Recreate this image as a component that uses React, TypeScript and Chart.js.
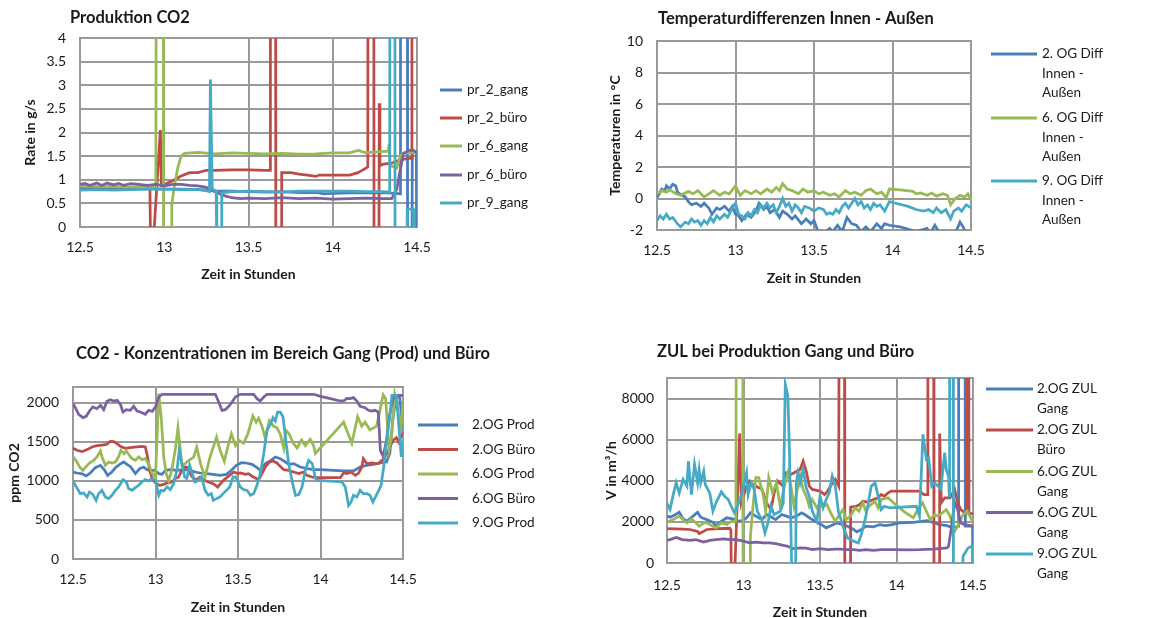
import React, { useEffect, useRef } from "react";
import { Chart, registerables } from "chart.js";

Chart.register(...registerables);

const FONT = "Lato, 'Open Sans', sans-serif";
const GRID = "#9a9a9a";
const TEXT = "#1a1a1a";
const C_BLUE = "#4A7EBB";
const C_RED = "#BE4B48";
const C_GREEN = "#98B954";
const C_PURPLE = "#7D60A0";
const C_CYAN = "#46AAC5";

const xTicks = [12.5, 13, 13.5, 14, 14.5];

// ---------- Panel 1: Produktion CO2 ----------
const p1Title = "Produktion CO2";
const p1YTitle = "Rate in g/s";
const p1YTicks = [0, 0.5, 1, 1.5, 2, 2.5, 3, 3.5, 4];
const p1Names = [["pr_2_gang"], ["pr_2_büro"], ["pr_6_gang"], ["pr_6_büro"], ["pr_9_gang"]];
const p1_pr2gang = [[12.5,0.82],[12.6,0.81],[12.7,0.82],[12.8,0.8],[12.9,0.81],[13.0,0.8],[13.1,0.8],[13.2,0.79],[13.27,0.78],[13.3,0.76],[13.4,0.76],[13.5,0.75],[13.6,0.74],[13.7,0.75],[13.8,0.73],[13.9,0.73],[13.95,0.7],[14.0,0.71],[14.1,0.72],[14.2,0.72],[14.3,0.73],[14.37,0.71],[14.4,0.7],[14.402,10],[14.442,10],[14.444,-1],[14.47,-1],[14.472,1.58],[14.496,1.58],[14.498,-1]];
const p1_pr2buero = [[12.5,0.85],[12.6,0.84],[12.7,0.85],[12.8,0.83],[12.88,0.84],[12.915,0.84],[12.918,-0.2],[12.94,-0.05],[12.977,2.05],[12.983,0.88],[13.0,0.9],[13.05,0.98],[13.1,1.08],[13.15,1.15],[13.2,1.15],[13.25,1.2],[13.3,1.2],[13.4,1.21],[13.5,1.21],[13.6,1.2],[13.628,1.2],[13.63,10],[13.66,10],[13.662,-1],[13.695,-1],[13.697,1.15],[13.75,1.15],[13.8,1.12],[13.85,1.1],[13.9,1.07],[13.92,1.1],[14.0,1.1],[14.1,1.1],[14.15,1.15],[14.2,1.25],[14.208,1.27],[14.21,10],[14.243,10],[14.245,-1],[14.274,-1],[14.276,2.62],[14.28,1.3],[14.3,1.33],[14.35,1.35],[14.4,1.42],[14.45,1.45],[14.468,1.45],[14.47,10]];
const p1_pr6gang = [[12.5,0.86],[12.6,0.86],[12.7,0.85],[12.8,0.85],[12.9,0.86],[12.95,0.85],[12.955,10],[12.994,10],[12.996,-1],[13.042,-1],[13.045,0.5],[13.06,0.85],[13.08,1.25],[13.1,1.5],[13.12,1.56],[13.2,1.58],[13.3,1.55],[13.4,1.57],[13.5,1.56],[13.6,1.55],[13.7,1.56],[13.8,1.54],[13.9,1.55],[14.0,1.57],[14.1,1.57],[14.15,1.62],[14.2,1.57],[14.3,1.6],[14.33,1.6],[14.335,1.76],[14.34,1.3],[14.38,1.25],[14.4,1.5],[14.42,1.57],[14.5,1.58]];
const p1_pr6buero = [[12.5,0.9],[12.53,0.92],[12.56,0.88],[12.6,0.93],[12.63,0.88],[12.66,0.93],[12.7,0.89],[12.73,0.92],[12.76,0.88],[12.8,0.92],[12.85,0.9],[12.9,0.88],[12.95,0.9],[13.0,0.87],[13.05,0.9],[13.1,0.9],[13.15,0.88],[13.2,0.87],[13.25,0.84],[13.28,0.78],[13.32,0.72],[13.35,0.67],[13.4,0.62],[13.45,0.6],[13.5,0.61],[13.6,0.6],[13.7,0.62],[13.8,0.6],[13.9,0.61],[14.0,0.59],[14.1,0.6],[14.2,0.61],[14.3,0.6],[14.35,0.6],[14.38,0.8],[14.4,1.2],[14.42,1.55],[14.45,1.62],[14.48,1.62],[14.5,1.57]];
const p1_pr9gang = [[12.5,0.78],[12.6,0.79],[12.7,0.78],[12.8,0.79],[12.9,0.8],[13.0,0.8],[13.1,0.79],[13.2,0.79],[13.25,0.77],[13.268,0.75],[13.274,3.12],[13.285,0.8],[13.3,0.78],[13.308,0.76],[13.312,-0.5],[13.337,-0.5],[13.341,0.72],[13.4,0.75],[13.5,0.76],[13.6,0.75],[13.7,0.74],[13.8,0.76],[13.9,0.76],[14.0,0.76],[14.1,0.76],[14.2,0.75],[14.3,0.75],[14.338,0.74],[14.34,10],[14.368,10],[14.37,-1],[14.44,-1],[14.442,0.38],[14.478,0.38],[14.48,-1]];

// ---------- Panel 2: Temperaturdifferenzen ----------
const p2Title = "Temperaturdifferenzen Innen - Außen";
const p2YTitle = "Temperaturen in °C";
const p2YTicks = [-2, 0, 2, 4, 6, 8, 10];
const p2Names = [["2. OG Diff", "Innen -", "Außen"], ["6. OG Diff", "Innen -", "Außen"], ["9. OG Diff", "Innen -", "Außen"]];
const p2_og2 = [[12.5,0.05],[12.52,0.4],[12.53,0.6],[12.55,0.5],[12.56,0.8],[12.58,0.6],[12.6,0.9],[12.62,0.8],[12.63,0.4],[12.66,0.2],[12.68,0.1],[12.7,-0.2],[12.72,-0.4],[12.75,-0.3],[12.78,-0.5],[12.8,-0.3],[12.83,-0.6],[12.85,-1.0],[12.88,-0.6],[12.9,-0.7],[12.93,-0.5],[12.96,-0.8],[12.98,-0.5],[13.0,-1.0],[13.02,-1.1],[13.04,-1.4],[13.07,-1.0],[13.1,-1.2],[13.13,-0.8],[13.15,-0.3],[13.18,-0.7],[13.2,-0.5],[13.22,-0.9],[13.25,-0.7],[13.28,-1.2],[13.3,-0.8],[13.33,-1.0],[13.36,-1.3],[13.38,-1.1],[13.42,-1.6],[13.45,-1.3],[13.48,-1.6],[13.5,-1.4],[13.53,-2.2],[13.56,-2.2],[13.6,-1.9],[13.62,-2.1],[13.65,-1.7],[13.68,-2.1],[13.71,-1.2],[13.74,-1.6],[13.77,-1.7],[13.8,-2.1],[13.83,-1.8],[13.86,-2.1],[13.9,-1.6],[13.93,-1.9],[13.95,-1.6],[13.98,-1.7],[14.05,-1.8],[14.15,-2.1],[14.22,-1.9],[14.24,-2.2],[14.27,-1.7],[14.3,-2.2],[14.4,-2.2],[14.43,-1.5],[14.45,-1.8],[14.47,-2.3],[14.5,-2.3]];
const p2_og6 = [[12.5,0.3],[12.53,0.5],[12.56,0.4],[12.58,0.55],[12.62,0.3],[12.65,0.2],[12.7,0.45],[12.73,0.3],[12.76,0.5],[12.8,0.1],[12.83,0.3],[12.86,0.5],[12.9,0.2],[12.93,0.4],[12.96,0.3],[13.0,0.8],[13.03,0.2],[13.06,0.5],[13.1,0.3],[13.13,0.5],[13.16,0.3],[13.2,0.6],[13.23,0.4],[13.26,0.7],[13.28,0.5],[13.3,0.95],[13.33,0.6],[13.36,0.5],[13.4,0.3],[13.43,0.6],[13.46,0.4],[13.5,0.5],[13.53,0.3],[13.56,0.4],[13.6,0.2],[13.63,0.3],[13.66,0.1],[13.7,0.5],[13.73,0.3],[13.76,0.4],[13.8,0.2],[13.83,0.5],[13.86,0.6],[13.9,0.3],[13.93,0.4],[13.96,0.05],[13.98,0.6],[14.05,0.55],[14.13,0.45],[14.15,0.3],[14.18,0.35],[14.22,0.2],[14.25,0.35],[14.28,0.15],[14.32,0.3],[14.35,0.2],[14.37,-0.4],[14.4,0.0],[14.43,0.2],[14.46,0.1],[14.48,0.3],[14.5,-0.1]];
const p2_og9 = [[12.5,-1.4],[12.52,-1.1],[12.54,-1.3],[12.56,-1.0],[12.58,-1.3],[12.6,-1.2],[12.63,-1.6],[12.65,-1.8],[12.68,-1.5],[12.7,-1.6],[12.72,-1.3],[12.74,-1.5],[12.76,-1.4],[12.78,-1.7],[12.8,-1.4],[12.82,-1.6],[12.84,-1.2],[12.86,-1.5],[12.88,-1.1],[12.9,-1.3],[12.93,-1.0],[12.95,-1.2],[12.98,-0.6],[13.0,-0.3],[13.02,-1.0],[13.04,-1.1],[13.06,-1.3],[13.08,-0.9],[13.1,-1.1],[13.12,-0.7],[13.14,-0.9],[13.16,-0.4],[13.18,-0.6],[13.2,-0.3],[13.22,-0.6],[13.24,-0.4],[13.26,-0.9],[13.28,-0.5],[13.3,0.0],[13.32,-0.5],[13.34,-0.3],[13.36,-0.8],[13.38,-0.4],[13.4,-0.6],[13.42,-0.9],[13.44,-0.5],[13.47,-0.6],[13.5,-0.8],[13.53,-0.6],[13.56,-0.7],[13.58,-1.0],[13.6,-0.9],[13.62,-1.0],[13.64,-0.7],[13.66,-0.9],[13.68,-0.5],[13.7,-0.3],[13.72,-0.6],[13.74,-0.3],[13.76,0.0],[13.78,-0.4],[13.8,-0.2],[13.82,-0.6],[13.84,-0.4],[13.86,-0.7],[13.88,-0.3],[13.9,-0.5],[13.92,-0.4],[13.95,-0.8],[13.98,-0.2],[14.02,-0.3],[14.1,-0.5],[14.15,-0.7],[14.2,-0.8],[14.23,-0.7],[14.26,-0.9],[14.28,-0.6],[14.31,-0.9],[14.34,-0.7],[14.37,-1.3],[14.39,-0.8],[14.42,-0.6],[14.44,-0.8],[14.47,-0.4],[14.5,-0.6]];

// ---------- Panel 3: CO2-Konzentrationen ----------
const p3Title = "CO2 - Konzentrationen im Bereich Gang (Prod) und Büro";
const p3YTitle = "ppm CO2";
const p3YTicks = [0, 500, 1000, 1500, 2000];
const p3Names = [["2.OG Prod"], ["2.OG Büro"], ["6.OG Prod"], ["6.OG Büro"], ["9.OG Prod"]];
const p3_og2prod = [[12.5,1113],[12.524,1100],[12.555,1090],[12.58,1062],[12.605,1100],[12.635,1168],[12.666,1198],[12.69,1140],[12.71,1070],[12.736,1113],[12.757,1168],[12.783,1211],[12.807,1241],[12.827,1211],[12.85,1177],[12.878,1092],[12.904,1156],[12.928,1177],[12.948,1143],[12.97,1134],[12.995,1134],[13.02,1092],[13.04,1083],[13.06,1134],[13.09,1143],[13.13,1134],[13.17,1143],[13.21,1134],[13.24,1113],[13.27,1100],[13.31,1092],[13.35,1083],[13.39,1070],[13.43,1083],[13.46,1134],[13.49,1198],[13.52,1232],[13.55,1228],[13.585,1211],[13.615,1168],[13.635,1134],[13.666,1220],[13.7,1262],[13.726,1305],[13.756,1283],[13.787,1241],[13.807,1211],[13.837,1220],[13.878,1177],[13.918,1156],[13.959,1143],[14.0,1143],[14.08,1134],[14.14,1126],[14.2,1126],[14.24,1177],[14.28,1198],[14.32,1211],[14.36,1228],[14.4,1241],[14.42,1350],[14.44,1817],[14.46,2094],[14.48,2072],[14.5,1646]];
const p3_og2buero = [[12.5,1416],[12.524,1390],[12.555,1373],[12.585,1399],[12.615,1433],[12.645,1450],[12.676,1458],[12.706,1467],[12.726,1505],[12.746,1501],[12.767,1475],[12.787,1441],[12.817,1416],[12.847,1424],[12.888,1433],[12.918,1441],[12.938,1433],[12.95,1326],[12.965,1134],[12.98,1028],[13.0,972],[13.025,942],[13.05,955],[13.07,972],[13.1,985],[13.12,1028],[13.14,1049],[13.16,1134],[13.18,1177],[13.195,1168],[13.21,1092],[13.23,1028],[13.25,1015],[13.27,1049],[13.29,1015],[13.32,985],[13.35,964],[13.377,921],[13.397,972],[13.417,1015],[13.443,1058],[13.474,1113],[13.498,1092],[13.514,1100],[13.544,1083],[13.565,1092],[13.585,1058],[13.605,1036],[13.625,1015],[13.645,1092],[13.666,1177],[13.692,1241],[13.712,1254],[13.736,1228],[13.756,1185],[13.777,1143],[13.807,1134],[13.837,1113],[13.868,1092],[13.898,1113],[13.918,1070],[13.948,1049],[13.97,1040],[14.12,1040],[14.14,1100],[14.16,1092],[14.185,1113],[14.211,1070],[14.231,1100],[14.25,1177],[14.26,1283],[14.278,1228],[14.292,1220],[14.312,1228],[14.333,1220],[14.35,1220],[14.383,1283],[14.403,1347],[14.42,1433],[14.44,1518],[14.46,1552],[14.474,1496],[14.5,1625]];
const p3_og6prod = [[12.5,1305],[12.52,1254],[12.54,1177],[12.56,1134],[12.58,1185],[12.6,1228],[12.625,1262],[12.645,1305],[12.666,1382],[12.676,1305],[12.696,1198],[12.716,1241],[12.736,1228],[12.757,1241],[12.777,1313],[12.79,1390],[12.81,1347],[12.823,1382],[12.837,1339],[12.857,1283],[12.878,1262],[12.898,1305],[12.918,1271],[12.938,1283],[12.958,1220],[12.98,1092],[13.0,1050],[13.02,2115],[13.035,1800],[13.05,1305],[13.065,1092],[13.08,1000],[13.1,1150],[13.12,1400],[13.136,1680],[13.16,1200],[13.18,1220],[13.2,1260],[13.23,1300],[13.25,1430],[13.275,1200],[13.3,1050],[13.33,1300],[13.37,1560],[13.39,1400],[13.417,1250],[13.44,1450],[13.46,1600],[13.485,1450],[13.505,1520],[13.534,1480],[13.56,1600],[13.59,1830],[13.61,1750],[13.625,1800],[13.645,1700],[13.665,1550],[13.69,1770],[13.715,1700],[13.735,1680],[13.756,1600],[13.777,1420],[13.79,1650],[13.81,1600],[13.835,1480],[13.858,1420],[13.885,1520],[13.908,1450],[13.938,1530],[13.958,1450],[13.969,1350],[14.14,1750],[14.19,1480],[14.225,1820],[14.25,1700],[14.27,1750],[14.3,1650],[14.34,1700],[14.38,2100],[14.395,2050],[14.415,1400],[14.43,1550],[14.45,2100],[14.47,1900],[14.485,1600],[14.5,2000]];
const p3_og6buero = [[12.5,1987],[12.514,1936],[12.534,1850],[12.56,1808],[12.58,1825],[12.6,1893],[12.62,1945],[12.645,1923],[12.666,1966],[12.686,1910],[12.706,2017],[12.726,2038],[12.746,2021],[12.767,2030],[12.787,1979],[12.803,1880],[12.823,1910],[12.847,1902],[12.868,1953],[12.888,1893],[12.908,1880],[12.938,1850],[12.958,1902],[12.98,1889],[13.0,1945],[13.02,2072],[13.04,2107],[13.363,2107],[13.383,2008],[13.403,1900],[13.423,1910],[13.444,1953],[13.464,2008],[13.484,2072],[13.514,2107],[13.595,2107],[13.615,2051],[13.635,2021],[13.656,2072],[13.676,2107],[13.959,2107],[14.0,2081],[14.06,2051],[14.12,2021],[14.14,2021],[14.16,2055],[14.18,2051],[14.2,2064],[14.22,2021],[14.24,1953],[14.27,1936],[14.29,1902],[14.31,1893],[14.33,1902],[14.35,1880],[14.363,1390],[14.38,1313],[14.4,1518],[14.42,1859],[14.445,2094],[14.474,2094],[14.5,2094]];
const p3_og9prod = [[12.5,998],[12.514,943],[12.53,887],[12.544,836],[12.565,845],[12.585,793],[12.6,857],[12.62,827],[12.64,750],[12.655,836],[12.675,878],[12.696,793],[12.716,772],[12.736,815],[12.757,878],[12.777,921],[12.803,1015],[12.823,985],[12.837,900],[12.858,878],[12.878,912],[12.898,943],[12.918,985],[12.938,1015],[12.958,998],[12.98,1028],[13.0,1006],[13.02,815],[13.033,878],[13.05,870],[13.07,921],[13.09,887],[13.11,964],[13.13,1134],[13.144,1390],[13.16,1220],[13.177,1049],[13.19,1028],[13.207,1198],[13.22,1113],[13.24,985],[13.26,1006],[13.28,1049],[13.3,878],[13.32,815],[13.338,836],[13.35,750],[13.37,772],[13.39,793],[13.41,836],[13.43,878],[13.45,921],[13.47,1049],[13.485,1049],[13.5,985],[13.514,921],[13.535,887],[13.555,878],[13.575,815],[13.595,836],[13.615,943],[13.635,1092],[13.656,1347],[13.676,1646],[13.7,1740],[13.712,1808],[13.726,1765],[13.74,1880],[13.756,1880],[13.773,1816],[13.787,1560],[13.807,1220],[13.827,1006],[13.848,815],[13.868,823],[13.888,921],[13.908,1134],[13.928,1262],[13.95,1220],[13.97,1028],[13.99,1006],[14.13,985],[14.15,921],[14.17,687],[14.185,729],[14.2,815],[14.22,793],[14.24,878],[14.26,836],[14.28,836],[14.3,815],[14.318,729],[14.333,793],[14.353,878],[14.367,943],[14.383,1177],[14.4,1518],[14.42,1816],[14.433,2094],[14.46,2094],[14.48,1560],[14.49,1305],[14.5,1518]];

// ---------- Panel 4: ZUL ----------
const p4Title = "ZUL bei Produktion Gang und Büro";
const p4YTitle = "V in m³/h";
const p4YTicks = [0, 2000, 4000, 6000, 8000];
const p4Names = [["2.OG ZUL", "Gang"], ["2.OG ZUL", "Büro"], ["6.OG ZUL", "Gang"], ["6.OG ZUL", "Gang"], ["9.OG ZUL", "Gang"]];
const p4_og2gang = [[12.5,2280],[12.52,2230],[12.55,2330],[12.58,2470],[12.6,2200],[12.63,2030],[12.67,2280],[12.7,2470],[12.72,2230],[12.76,2110],[12.8,1980],[12.82,1820],[12.855,2030],[12.89,2200],[12.93,2150],[12.96,2030],[13.0,2080],[13.02,2200],[13.045,2440],[13.08,2280],[13.12,2110],[13.15,2360],[13.18,2250],[13.21,2110],[13.25,2360],[13.28,2280],[13.31,2200],[13.345,2280],[13.38,2440],[13.41,2310],[13.44,2150],[13.48,1980],[13.51,1870],[13.54,1710],[13.575,1820],[13.61,1950],[13.65,1870],[13.68,1790],[13.72,1630],[13.74,1510],[13.77,1630],[13.8,1790],[13.85,1760],[13.89,1870],[13.93,1820],[13.97,1870],[14.02,1950],[14.11,1980],[14.2,2060],[14.24,1980],[14.28,1870],[14.33,1820],[14.37,1710],[14.404,1790],[14.406,12000],[14.448,12000],[14.45,1790],[14.497,1790],[14.499,-1000]];
const p4_og2buero = [[12.5,1670],[12.55,1660],[12.6,1650],[12.65,1630],[12.7,1540],[12.71,1430],[12.76,1630],[12.84,1670],[12.91,1690],[12.918,1600],[12.92,-1000],[12.94,-1000],[12.975,6300],[12.986,2930],[13.02,3740],[13.04,3980],[13.06,3820],[13.09,3700],[13.12,3600],[13.15,2930],[13.18,2600],[13.2,3400],[13.225,3980],[13.26,3740],[13.28,4390],[13.31,4310],[13.33,4390],[13.37,4550],[13.39,4960],[13.41,4470],[13.43,3740],[13.45,3580],[13.5,3500],[13.53,3330],[13.55,3500],[13.575,3820],[13.6,4070],[13.622,3740],[13.625,12000],[13.66,12000],[13.662,-1000],[13.698,-1000],[13.7,2720],[13.74,2770],[13.76,2850],[13.78,3000],[13.81,2960],[13.85,3090],[13.88,3170],[13.9,3330],[13.92,3250],[13.945,3410],[13.966,3500],[14.15,3500],[14.18,3330],[14.203,3330],[14.205,12000],[14.243,12000],[14.245,-1000],[14.28,-1000],[14.282,6300],[14.293,2930],[14.315,3170],[14.35,3170],[14.38,3580],[14.4,2930],[14.42,2600],[14.445,2440],[14.458,2440],[14.46,12000],[14.472,12000],[14.474,2400],[14.5,2400]];
const p4_og6gang = [[12.5,1980],[12.54,2110],[12.58,2280],[12.63,1950],[12.66,2150],[12.69,1950],[12.71,1790],[12.75,1980],[12.78,1870],[12.82,1710],[12.855,1950],[12.89,1870],[12.92,2030],[12.95,2030],[12.953,12000],[12.995,12000],[12.997,-1000],[13.043,-1000],[13.045,1300],[13.06,2600],[13.08,4150],[13.1,4150],[13.13,3250],[13.145,2520],[13.165,4150],[13.19,3410],[13.215,3900],[13.24,2760],[13.27,3820],[13.29,4390],[13.31,3740],[13.33,2760],[13.37,4230],[13.39,3580],[13.41,3250],[13.43,2760],[13.45,3090],[13.48,2680],[13.5,2850],[13.52,2760],[13.545,2850],[13.575,2360],[13.6,2030],[13.62,2280],[13.65,2600],[13.67,2110],[13.7,2280],[13.73,2680],[13.755,2520],[13.78,2930],[13.8,2520],[13.82,2760],[13.86,3000],[13.88,2680],[13.9,3090],[13.945,3170],[13.98,2930],[14.02,2680],[14.06,2440],[14.11,2200],[14.14,2600],[14.17,2930],[14.195,2520],[14.22,2110],[14.25,2360],[14.27,2280],[14.3,2440],[14.325,2600],[14.35,2280],[14.38,1540],[14.4,1790],[14.435,2360],[14.46,2520],[14.48,2280],[14.5,1950]];
const p4_og6gang2 = [[12.5,1100],[12.53,1160],[12.56,1240],[12.6,1140],[12.65,1100],[12.69,1140],[12.74,1020],[12.78,1100],[12.82,1140],[12.87,1170],[12.91,1140],[12.95,1140],[13.0,1060],[13.04,980],[13.08,1020],[13.13,975],[13.17,975],[13.21,940],[13.26,860],[13.29,810],[13.32,700],[13.37,730],[13.41,720],[13.45,650],[13.5,700],[13.55,650],[13.6,680],[13.64,680],[13.67,650],[13.72,650],[13.76,620],[13.8,650],[13.85,620],[13.9,650],[13.98,650],[14.07,640],[14.15,650],[14.24,680],[14.28,700],[14.33,730],[14.34,810],[14.36,1790],[14.38,2960],[14.4,2600],[14.42,1950],[14.445,1870],[14.48,1820],[14.5,1790]];
const p4_og9gang = [[12.5,2900],[12.52,2600],[12.54,3300],[12.56,3900],[12.58,3400],[12.605,4070],[12.63,3740],[12.64,4960],[12.66,3330],[12.68,4800],[12.7,3900],[12.71,4550],[12.72,3900],[12.74,4470],[12.75,3820],[12.78,3400],[12.8,2520],[12.82,2930],[12.855,3460],[12.877,3250],[12.9,3090],[12.92,2760],[12.94,2440],[12.96,2760],[12.99,3400],[13.02,4390],[13.03,3330],[13.05,3900],[13.07,3580],[13.09,2520],[13.12,2110],[13.14,1460],[13.16,1950],[13.18,2760],[13.2,2360],[13.24,2520],[13.26,2930],[13.273,8700],[13.29,8130],[13.3,5500],[13.317,-1000],[13.34,-1000],[13.345,3900],[13.356,4390],[13.37,3900],[13.39,4550],[13.41,3660],[13.43,3250],[13.45,2520],[13.48,2030],[13.5,3250],[13.52,2680],[13.54,3090],[13.56,3400],[13.58,4230],[13.6,3740],[13.62,2520],[13.65,1790],[13.68,1220],[13.72,1060],[13.75,975],[13.77,1380],[13.8,2280],[13.835,3740],[13.86,3900],[13.88,3250],[13.9,2600],[13.92,2760],[13.955,2680],[14.13,2760],[14.15,2280],[14.173,6260],[14.195,5040],[14.21,5120],[14.23,3740],[14.25,3900],[14.27,3740],[14.29,3580],[14.315,5370],[14.325,4550],[14.34,4230],[14.345,3250],[14.347,12000],[14.37,12000],[14.372,-1000],[14.43,-1000],[14.435,330],[14.467,730],[14.49,810],[14.498,810],[14.5,-1000]];

type Series = { names: string[]; data: number[][]; color: string };
type PanelDef = {
  title: string; titleX: number; titleY: number;
  L: number; T: number; R: number; B: number;
  yMin: number; yMax: number; yTicks: number[];
  yTitle: string; yTitleX: number; yTickRight: number;
  xTickY: number; xTitleY: number;
  series: Series[];
  legX1: number; legX2: number; legTextX: number; legYs: number[]; legGap: number;
};

const W = 1168;
const H = 618;

const panels: PanelDef[] = [
  {
    title: p1Title, titleX: 70, titleY: 18, L: 80, T: 38, R: 417, B: 227,
    yMin: 0, yMax: 4, yTicks: p1YTicks, yTitle: p1YTitle, yTitleX: 30, yTickRight: 66,
    xTickY: 247, xTitleY: 274,
    series: [
      { names: p1Names[0], data: p1_pr2gang, color: C_BLUE },
      { names: p1Names[1], data: p1_pr2buero, color: C_RED },
      { names: p1Names[2], data: p1_pr6gang, color: C_GREEN },
      { names: p1Names[3], data: p1_pr6buero, color: C_PURPLE },
      { names: p1Names[4], data: p1_pr9gang, color: C_CYAN },
    ],
    legX1: 440, legX2: 462, legTextX: 467, legYs: [90, 118, 146, 175, 203], legGap: 0,
  },
  {
    title: p2Title, titleX: 658, titleY: 19, L: 657, T: 41, R: 971, B: 230,
    yMin: -2, yMax: 10, yTicks: p2YTicks, yTitle: p2YTitle, yTitleX: 615, yTickRight: 643,
    xTickY: 250, xTitleY: 278,
    series: [
      { names: p2Names[0], data: p2_og2, color: C_BLUE },
      { names: p2Names[1], data: p2_og6, color: C_GREEN },
      { names: p2Names[2], data: p2_og9, color: C_CYAN },
    ],
    legX1: 991, legX2: 1037, legTextX: 1042, legYs: [54, 118, 181], legGap: 19.5,
  },
  {
    title: p3Title, titleX: 76, titleY: 354, L: 73, T: 387, R: 403, B: 559,
    yMin: 0, yMax: 2200, yTicks: p3YTicks, yTitle: p3YTitle, yTitleX: 14, yTickRight: 59,
    xTickY: 579, xTitleY: 607,
    series: [
      { names: p3Names[0], data: p3_og2prod, color: C_BLUE },
      { names: p3Names[1], data: p3_og2buero, color: C_RED },
      { names: p3Names[2], data: p3_og6prod, color: C_GREEN },
      { names: p3Names[3], data: p3_og6buero, color: C_PURPLE },
      { names: p3Names[4], data: p3_og9prod, color: C_CYAN },
    ],
    legX1: 418, legX2: 458, legTextX: 472, legYs: [425, 449.5, 474, 498.5, 523], legGap: 0,
  },
  {
    title: p4Title, titleX: 657, titleY: 352, L: 667, T: 378, R: 973, B: 563,
    yMin: 0, yMax: 9000, yTicks: p4YTicks, yTitle: p4YTitle, yTitleX: 611, yTickRight: 654,
    xTickY: 585, xTitleY: 612,
    series: [
      { names: p4Names[0], data: p4_og2gang, color: C_BLUE },
      { names: p4Names[1], data: p4_og2buero, color: C_RED },
      { names: p4Names[2], data: p4_og6gang, color: C_GREEN },
      { names: p4Names[3], data: p4_og6gang2, color: C_PURPLE },
      { names: p4Names[4], data: p4_og9gang, color: C_CYAN },
    ],
    legX1: 986, legX2: 1033, legTextX: 1037, legYs: [389, 430, 471.5, 512.5, 554], legGap: 20,
  },
];

const TICK_SIZE = 14;
const AXTITLE_SIZE = 14;
const TITLE_SIZE = 16.5;
const LEGEND_SIZE = 13.5;

function buildConfig(p: PanelDef): any {
  const xAxisH = H - p.B;
  const n = p.series.length;
  const decor = {
    id: "decor" + p.L + "_" + p.T,
    beforeDatasetsDraw(chart: any) {
      const a = chart.chartArea;
      const ctx = chart.ctx;
      ctx.save();
      ctx.strokeStyle = GRID;
      ctx.lineWidth = 2;
      ctx.strokeRect(a.left, a.top, a.right - a.left, a.bottom - a.top);
      ctx.restore();
    },
    afterDraw(chart: any) {
      const ctx = chart.ctx;
      ctx.save();
      ctx.fillStyle = TEXT;
      ctx.textAlign = "left";
      ctx.textBaseline = "middle";
      ctx.font = `bold ${TITLE_SIZE}px ${FONT}`;
      ctx.fillText(p.title, p.titleX, p.titleY);
      ctx.font = `${LEGEND_SIZE}px ${FONT}`;
      p.series.forEach((s, i) => {
        const y = p.legYs[i];
        ctx.strokeStyle = s.color;
        ctx.lineWidth = 3;
        ctx.beginPath();
        ctx.moveTo(p.legX1, y);
        ctx.lineTo(p.legX2, y);
        ctx.stroke();
        s.names.forEach((t, k) => ctx.fillText(t, p.legTextX, y + k * p.legGap));
      });
      ctx.restore();
    },
  };
  return {
    type: "line",
    data: {
      datasets: p.series.map((s, i) => ({
        label: s.names.join(" "),
        data: s.data.map(([x, y]) => ({ x, y })),
        borderColor: s.color,
        backgroundColor: s.color,
        borderWidth: 2.75,
        pointRadius: 0,
        tension: 0,
        fill: false,
        order: n - i,
      })),
    },
    options: {
      responsive: false,
      animation: false,
      devicePixelRatio: 1,
      events: [],
      layout: { padding: { left: 0, top: p.T, right: W - p.R, bottom: 0 } },
      plugins: { legend: { display: false }, title: { display: false }, tooltip: { enabled: false } },
      scales: {
        x: {
          type: "linear",
          min: 12.5,
          max: 14.5,
          afterBuildTicks: (sc: any) => { sc.ticks = xTicks.map((v) => ({ value: v })); },
          afterFit: (sc: any) => { sc.height = xAxisH; },
          grid: { color: GRID, lineWidth: 2, drawTicks: false },
          border: { display: false },
          ticks: {
            color: TEXT,
            font: { family: FONT, size: TICK_SIZE },
            padding: p.xTickY - p.B - TICK_SIZE * 0.6,
            maxRotation: 0,
            callback: (v: number) => String(v),
          },
          title: {
            display: true,
            text: "Zeit in Stunden",
            color: TEXT,
            font: { family: FONT, size: AXTITLE_SIZE, weight: "bold" },
            padding: { top: 0, bottom: H - p.xTitleY - AXTITLE_SIZE * 0.6 },
          },
        },
        y: {
          type: "linear",
          min: p.yMin,
          max: p.yMax,
          afterBuildTicks: (sc: any) => { sc.ticks = p.yTicks.map((v) => ({ value: v })); },
          afterFit: (sc: any) => { sc.width = p.L; },
          grid: { color: GRID, lineWidth: 2, drawTicks: false },
          border: { display: false },
          ticks: {
            color: TEXT,
            font: { family: FONT, size: TICK_SIZE },
            padding: p.L - p.yTickRight,
            callback: (v: number) => String(v),
          },
          title: {
            display: true,
            text: p.yTitle,
            color: TEXT,
            font: { family: FONT, size: AXTITLE_SIZE, weight: "bold" },
            padding: { top: p.yTitleX - AXTITLE_SIZE * 0.6, bottom: 0 },
          },
        },
      },
    },
    plugins: [decor],
  };
}

function PanelChart({ def }: { def: PanelDef }) {
  const ref = useRef<HTMLCanvasElement | null>(null);
  useEffect(() => {
    if (!ref.current) return;
    const chart = new Chart(ref.current, buildConfig(def));
    return () => chart.destroy();
  }, [def]);
  return (
    <canvas
      ref={ref}
      width={W}
      height={H}
      style={{ position: "absolute", left: 0, top: 0, width: W, height: H, display: "block" }}
    />
  );
}

export default function App() {
  return (
    <div style={{ position: "absolute", left: 0, top: 0, width: W, height: H, background: "#fff", overflow: "hidden" }}>
      {panels.map((p, i) => (
        <PanelChart key={i} def={p} />
      ))}
    </div>
  );
}
